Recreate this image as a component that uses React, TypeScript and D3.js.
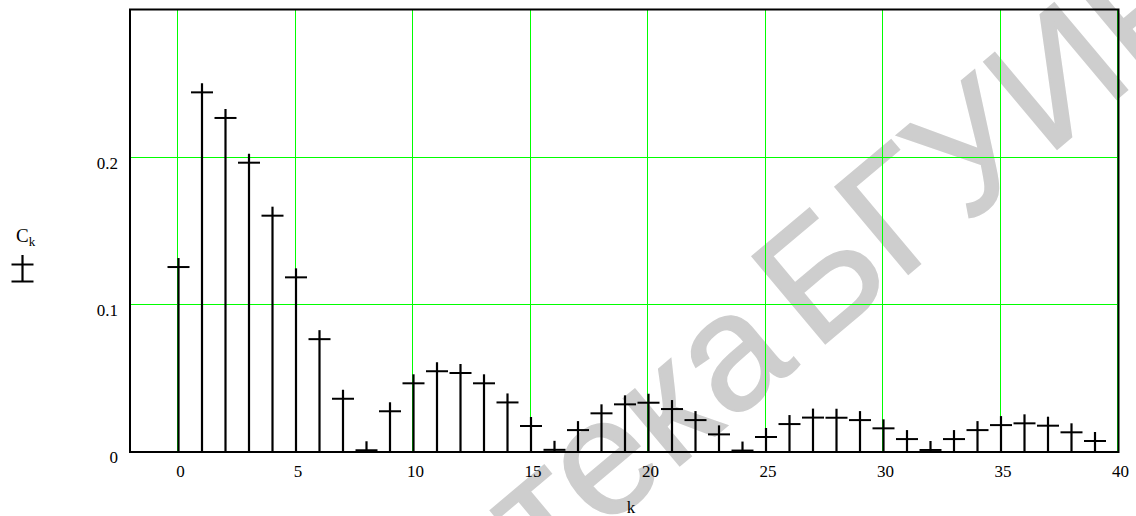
import React from "react";
import * as d3 from "d3";

// Spectrum coefficients C_k for k = 0..39
const coefficients: number[] = [
  0.125, 0.2437, 0.2263, 0.1959, 0.1599, 0.118, 0.076, 0.0355, 0.0005, 0.027,
  0.046, 0.0542, 0.053, 0.046, 0.033, 0.017, 0.0008, 0.0142, 0.0256, 0.0317,
  0.0328, 0.0285, 0.021, 0.0113, 0.0003, 0.0095, 0.0183, 0.0227, 0.0226, 0.021,
  0.0154, 0.0081, 0.0007, 0.0081, 0.0142, 0.0176, 0.0188, 0.0172, 0.0127, 0.0068,
];
const xTicks: number[] = [0, 5, 10, 15, 20, 25, 30, 35, 40];
const yTicks: number[] = [0, 0.1, 0.2];
const xDomain: [number, number] = [-2, 40];
const yDomain: [number, number] = [0, 0.3];
const xLabel = "k";
const seriesName = "C";
const seriesSub = "k";
const watermarkA = "Библиотека";
const watermarkB = "БГУИР";

const W = 1136;
const H = 516;
const FONT = "'Liberation Serif', 'Times New Roman', serif";

export default function App() {
  const x = d3.scaleLinear().domain(xDomain).range([130, 1117]);
  const y = d3.scaleLinear().domain(yDomain).range([451, 9.5]);
  const stemOff = 1.5;
  const green = "#00ff00";
  const px = (v: number) => Math.round(v) + 0.5;

  return (
    <svg
      width={W}
      height={H}
      style={{ position: "absolute", left: 0, top: 0, background: "#fff" }}
      fontFamily={FONT}
    >
      {/* watermark */}
      <g
        transform="translate(815,352) rotate(-40)"
        fill="#cecece"
        stroke="#cecece"
        strokeWidth={2}
        fontFamily="'Liberation Sans', Arial, sans-serif"
        fontSize={165}
      >
        <text x={-20} textAnchor="end">{watermarkA}</text>
        <text x={0} textAnchor="start">{watermarkB}</text>
      </g>

      {/* grid */}
      <g stroke={green} strokeWidth={1}>
        {xTicks.map((t) => (
          <line key={"gx" + t} x1={px(x(t))} x2={px(x(t))} y1={y(yDomain[1])} y2={y(0)} />
        ))}
        {yTicks.filter((t) => t > 0).map((t) => (
          <line key={"gy" + t} x1={x(xDomain[0])} x2={x(xDomain[1])} y1={px(y(t))} y2={px(y(t))} />
        ))}
      </g>

      {/* stems and markers */}
      <g stroke="#000" strokeWidth={2.2} fill="none">
        {coefficients.map((v, k) => {
          const cx = x(k) + stemOff;
          const cy = y(v);
          return (
            <g key={k}>
              <line x1={cx} x2={cx} y1={y(0)} y2={cy - 9} />
              <line x1={cx - 11} x2={cx + 11} y1={cy} y2={cy} strokeWidth={2} />
            </g>
          );
        })}
      </g>

      {/* frame */}
      <rect
        x={x(xDomain[0])}
        y={y(yDomain[1])}
        width={x(xDomain[1]) - x(xDomain[0]) + 1.5}
        height={y(0) - y(yDomain[1]) + 1}
        fill="none"
        stroke="#000"
        strokeWidth={2}
      />

      {/* x tick labels */}
      <g fontSize={17} textAnchor="middle" fill="#000">
        {xTicks.map((t) => (
          <text key={"xl" + t} x={x(t) + 3.5} y={477}>
            {t}
          </text>
        ))}
      </g>
      <text x={631} y={513} fontSize={17} textAnchor="middle">
        {xLabel}
      </text>

      {/* y tick labels */}
      <g fontSize={17} textAnchor="end" fill="#000">
        {yTicks.map((t) => (
          <text key={"yl" + t} x={118} y={y(t) + 12}>
            {d3.format("")(t)}
          </text>
        ))}
      </g>

      {/* legend */}
      <text x={16} y={242} fontSize={19}>
        {seriesName}
        <tspan fontSize={13} dy={4}>{seriesSub}</tspan>
      </text>
      <g stroke="#000" strokeWidth={2}>
        <line x1={22.5} x2={22.5} y1={255} y2={282} strokeWidth={2.2} />
        <line x1={11.5} x2={33.5} y1={264.5} y2={264.5} />
        <line x1={11.5} x2={33.5} y1={281.5} y2={281.5} />
      </g>
    </svg>
  );
}
